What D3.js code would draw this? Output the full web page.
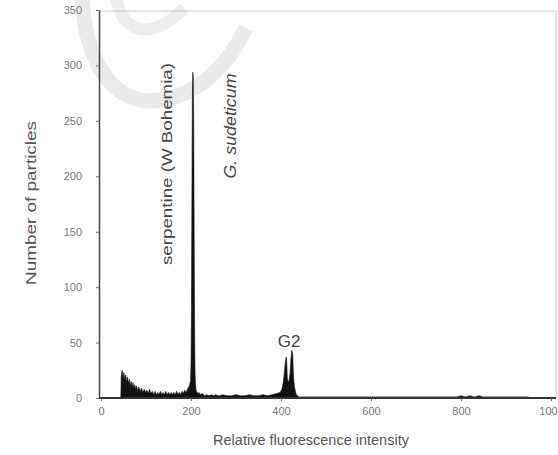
<!DOCTYPE html>
<html>
<head>
<meta charset="utf-8">
<script src="https://cdn.jsdelivr.net/npm/d3@7"></script>
<style>
  body { margin: 0; background: #fff; }
  text { font-family: "Liberation Sans", Arial, sans-serif; }
</style>
</head>
<body>
<script>
// histogram: channel (relative fluorescence) and number of particles
var channel = [44,45,47,49,51,53,55,57,59,61,63,65,67,69,71,73,75,77,79,81,84,87,90,93,96,99,102,105,108,111,114,117,120,123,126,129,132,135,138,141,144,147,150,153,156,159,162,165,168,171,174,177,180,183,186,189,192,195,197,199,200,201,202,203,204,205,206,207,208,209,210,211,212,214,216,218,220,225,230,235,240,245,250,255,260,265,270,280,290,300,310,320,330,340,350,360,370,380,390,398,402,405,408,410,412,413,414,416,418,420,422,424,426,427,428,430,432,434,437,440,450,470,500,530,560,590,620,650,680,710,740,770,790,800,810,820,830,840,850,860,870,900,950,1000];
var count = [0,20,25,18,23,16,21,14,19,13,17,11,15,10,14,9,12,8,11,7,10,6,9,5,8,5,7,4,8,4,6,3,6,3,5,3,6,3,5,3,6,3,5,3,5,3,5,3,6,3,5,3,6,4,7,5,8,10,12,16,30,80,180,270,294,290,250,150,60,22,12,8,6,5,4,5,3,4,2,3,2,3,2,3,2,2,3,2,2,3,2,2,3,2,2,3,2,3,4,5,8,14,25,34,37,30,18,14,16,22,35,43,40,28,18,10,6,3,2,1,1,1,1,1,1,1,1,1,1,1,1,1,1,2,1,2,1,2,1,1,1,1,1];

var xTicks = [0,200,400,600,800,1000];
var yTicks = [0,50,100,150,200,250,300,350];

var width = 558, height = 455;

var svg = d3.select("body").append("svg")
    .attr("width", width)
    .attr("height", height);

// faint watermark swirl behind the chart
svg.append("path")
    .attr("d", "M82,-8C84,60 112,108 162,100C202,93 230,62 246,28")
    .attr("fill", "none")
    .attr("stroke", "#e9e9e9")
    .attr("stroke-width", 15);
svg.append("path")
    .attr("d", "M116,-8C118,32 150,44 184,8")
    .attr("fill", "none")
    .attr("stroke", "#ececec")
    .attr("stroke-width", 12);

var x = d3.scaleLinear().domain([0, 1000]).range([101, 551]);
var y = d3.scaleLinear().domain([0, 350]).range([398, 10]);

var data = channel.map(function(c, i) { return {c: c, n: count[i]}; });

// light frame on top and right
svg.append("path")
    .attr("d", "M99,11H556V398")
    .attr("fill", "none")
    .attr("stroke", "#c8c8c8")
    .attr("stroke-width", 1);

var area = d3.area()
    .x(function(d) { return x(d.c); })
    .y0(y(0))
    .y1(function(d) { return y(d.n); });

svg.append("path")
    .datum(data)
    .attr("d", area)
    .attr("fill", "#111")
    .attr("stroke", "#111")
    .attr("stroke-width", 0.6);

var xAxis = svg.append("g")
    .attr("transform", "translate(0,398)")
    .call(d3.axisBottom(x).tickValues(xTicks).tickFormat(d3.format("d")).tickSize(3).tickPadding(6).tickSizeOuter(0));
xAxis.select(".domain").attr("d", "M99,0H556").attr("stroke", "#333").attr("stroke-width", 2);
xAxis.selectAll(".tick line").attr("stroke", "#666");
xAxis.selectAll(".tick text").attr("fill", "#777").style("font-size", "11px");

var yAxis = svg.append("g")
    .attr("transform", "translate(99,0)")
    .call(d3.axisLeft(y).tickValues(yTicks).tickSize(3).tickPadding(14).tickSizeOuter(0));
yAxis.select(".domain").attr("stroke", "#444").attr("stroke-width", 1.5);
yAxis.selectAll(".tick line").attr("stroke", "#666");
yAxis.selectAll(".tick text").attr("fill", "#777").style("font-size", "11px");

// axis titles
svg.append("text")
    .attr("x", 311).attr("y", 445)
    .attr("text-anchor", "middle")
    .attr("fill", "#555")
    .style("font-size", "14.5px")
    .text("Relative fluorescence intensity");

svg.append("text")
    .attr("transform", "translate(36,203) rotate(-90)")
    .attr("text-anchor", "middle")
    .attr("fill", "#555")
    .attr("textLength", 164)
    .attr("lengthAdjust", "spacingAndGlyphs")
    .style("font-size", "14.5px")
    .text("Number of particles");

// annotations
svg.append("text")
    .attr("transform", "translate(172,164) rotate(-90)")
    .attr("text-anchor", "middle")
    .attr("fill", "#444")
    .attr("textLength", 202)
    .attr("lengthAdjust", "spacingAndGlyphs")
    .style("font-size", "15px")
    .text("serpentine (W Bohemia)");

svg.append("text")
    .attr("transform", "translate(236,126) rotate(-90)")
    .attr("text-anchor", "middle")
    .attr("fill", "#444")
    .attr("textLength", 105)
    .attr("lengthAdjust", "spacingAndGlyphs")
    .style("font-size", "16px")
    .style("font-style", "italic")
    .text("G. sudeticum");

svg.append("text")
    .attr("x", 289).attr("y", 347)
    .attr("text-anchor", "middle")
    .attr("fill", "#444")
    .style("font-size", "17px")
    .text("G2");
</script>
</body>
</html>
